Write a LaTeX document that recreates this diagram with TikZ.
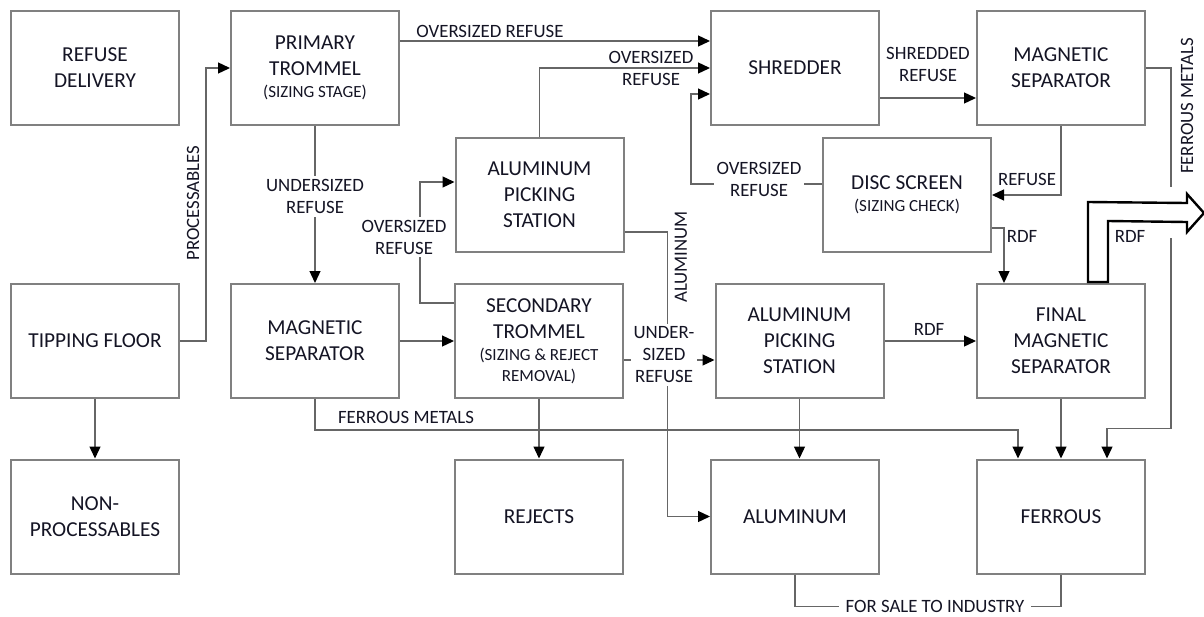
\documentclass[tikz,border=0pt]{standalone}
\usepackage{fontspec}
\setmainfont{Carlito}
\usetikzlibrary{arrows.meta,calc}
\definecolor{boxgray}{HTML}{808080}
\definecolor{linegray}{HTML}{666666}
\definecolor{ink}{HTML}{141424}
\newcommand\subtxt[1]{{\fontsize{17}{20}\selectfont #1}}
\begin{document}
\begin{tikzpicture}[x=1pt,y=-1pt,
  every node/.style={text=ink},
  unit/.style={draw=boxgray,line width=2pt,rectangle,minimum width=168pt,minimum height=114pt,
    align=center,inner sep=2pt,font=\fontsize{21.3}{26}\selectfont},
  lbl/.style={align=center,inner sep=1pt,font=\fontsize{18.8}{22}\selectfont},
  gap/.style={lbl,fill=white,inner sep=3pt},
  link/.style={draw=linegray,line width=1.3pt},
  arr/.style={link,-{Triangle[length=12pt,width=11pt,color=black]}},
  bigarrow/.style={draw=black,line width=2.4pt,line join=miter}]
\useasboundingbox (0,0) rectangle (1204,616);

% units of the plant
\node[unit] (rd)  at (95,68)    {REFUSE\\DELIVERY};
\node[unit] (pt)  at (315,68)   {PRIMARY\\TROMMEL\\[-4pt]\subtxt{(SIZING STAGE)}};
\node[unit] (tf)  at (95,341)   {TIPPING FLOOR};
\node[unit] (np)  at (95,516.5) {NON-\\PROCESSABLES};
\node[unit] (ms1) at (315,341)  {MAGNETIC\\SEPARATOR};
\node[unit] (ap1) at (539.5,195){ALUMINUM\\PICKING\\STATION};
\node[unit] (st)  at (539,341)  {SECONDARY\\TROMMEL\\[-4pt]\subtxt{(SIZING \& REJECT}\\[-5pt]\subtxt{REMOVAL)}};
\node[unit] (rej) at (539,516.5){REJECTS};
\node[unit] (sh)  at (795,68)   {SHREDDER};
\node[unit] (ms2) at (1061,68)  {MAGNETIC\\SEPARATOR};
\node[unit] (ds)  at (907,195)  {DISC SCREEN\\[-4pt]\subtxt{(SIZING CHECK)}};
\node[unit] (ap2) at (799.5,341){ALUMINUM\\PICKING\\STATION};
\node[unit] (fms) at (1061,341) {FINAL\\MAGNETIC\\SEPARATOR};
\node[unit] (al)  at (795,516.5){ALUMINUM};
\node[unit] (fe)  at (1061,516.5){FERROUS};

% tipping floor
\draw[arr] (tf.east) -- ++(26,0) |- (pt.west);
\node[lbl,rotate=90] (lproc) at (193,203) {PROCESSABLES};
\draw[arr] (tf.south) -- (np.north);

% primary trommel
\draw[arr] (pt.south) -- (ms1.north) node[gap,pos=0.45] (lunder) {UNDERSIZED\\REFUSE};
\draw[arr] ($(pt.north east)+(0,31)$) coordinate (ptO) -- (sh.west |- ptO);
\node[lbl] (lover1) at (490,31) {OVERSIZED REFUSE};

% upper aluminum picking station
\draw[arr] (ap1.north) |- (sh.west);
\node[lbl] (lover2) at (651,68) {OVERSIZED\\REFUSE};

% disc screen return to shredder
\draw[arr] ($(ds.west)+(0,-11)$) -- ++(-131,0) |- ($(sh.west)+(0,26)$);
\node[gap] (lover3) at (759,179) {OVERSIZED\\REFUSE};

% shredder to magnetic separator
\draw[arr] ($(sh.east)+(0,30)$) -- ($(ms2.west)+(0,30)$);
\node[lbl] (lshred) at (928,64) {SHREDDED\\REFUSE};

% magnetic separator outputs
\draw[arr] (ms2.south) |- (ds.east);
\node[lbl] (lref) at (1027,179) {REFUSE};
\draw[link] (ms2.east) -- ++(25,0) coordinate (fmA) -- ++(0,119);
\draw[arr] ($(fmA)+(0,170)$) |- ($(fe.north)+(46,-30)$) -- ($(fe.north)+(46,0)$);
\node[lbl,rotate=90] (lfm1) at (1187,106) {FERROUS METALS};

% disc screen RDF
\draw[arr] ($(ds.east)+(0,33)$) -| ($(fms.north)+(-57,0)$);
\node[lbl] (lrdf1) at (1022,236) {RDF};

% RDF product leaving the plant
\draw[bigarrow] ($(fms.north)+(27,-1)$) -- ++(0,-80) -- (1187,203) -- (1187,194)
  -- (1204,213) -- (1187,232) -- (1187,222) -- ($(fms.north)+(47,-62)$)
  -- ($(fms.north)+(47,-1)$) -- cycle;
\node[lbl] (lrdf2) at (1130,236) {RDF};

% left magnetic separator
\draw[arr] (ms1.east) -- (st.west);
\draw[arr] (ms1.south) -- ++(0,31) -| ($(fe.north)+(-43,0)$);
\node[lbl] (lfm2) at (406,417) {FERROUS METALS};

% secondary trommel
\draw[arr] ($(st.west)+(0,-38)$) -- ++(-34,0) |- ($(ap1.west)+(0,-13)$);
\node[gap] (lover4) at (404,237) {OVERSIZED\\REFUSE};
\draw[arr] (st.south) -- (rej.north);

% aluminum from the upper picking station
\draw[arr] ($(ap1.east)+(0,37)$) -- ++(43,0) |- (al.west);
\node[lbl,rotate=90] (lalu) at (681,257) {ALUMINUM};

% undersized refuse to the lower picking station
\draw[arr] ($(st.east)+(0,19)$) -- ($(ap2.west)+(0,19)$);
\node[gap] (lunder2) at (664,355) {UNDER-\\SIZED\\REFUSE};

% lower aluminum picking station
\draw[arr] (ap2.south) -- (ap2.south |- al.north);
\draw[arr] (ap2.east) -- (fms.west);
\node[lbl] (lrdf3) at (929,329) {RDF};
\draw[arr] (fms.south) -- (fe.north);

% products sold
\draw[link] (al.south) -- ++(0,32) -| (fe.south);
\node[gap,inner xsep=7pt] (lsale) at (935,606) {FOR SALE TO INDUSTRY};
\end{tikzpicture}
\end{document}
